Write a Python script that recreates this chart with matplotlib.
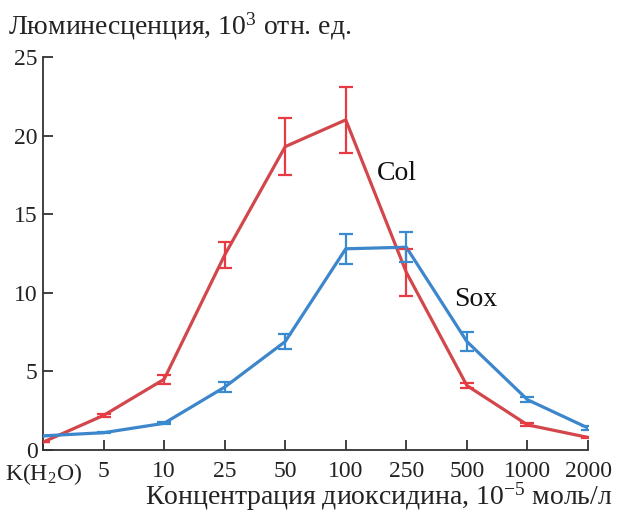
import matplotlib
matplotlib.use("Agg")
import matplotlib.pyplot as plt
import numpy as np

plt.rcParams['font.family'] = ['Liberation Serif', 'DejaVu Serif']
plt.rcParams['mathtext.fontset'] = 'custom'
plt.rcParams['mathtext.rm'] = 'Liberation Serif'
plt.rcParams['mathtext.it'] = 'Liberation Serif:italic'
plt.rcParams['mathtext.bf'] = 'Liberation Serif:bold'

categories = ["K(H$_2$O)", "5", "10", "25", "50", "100", "250", "500", "1000", "2000"]
col_values = [0.5, 2.2, 4.5, 12.4, 19.3, 21.0, 11.3, 4.1, 1.6, 0.8]
col_err = [0.0, 0.1, 0.3, 0.8, 1.8, 2.1, 1.5, 0.15, 0.1, 0.05]
sox_values = [0.9, 1.1, 1.7, 4.0, 6.9, 12.8, 12.9, 6.9, 3.2, 1.4]
sox_err = [0.0, 0.05, 0.05, 0.3, 0.5, 0.95, 0.95, 0.6, 0.15, 0.1]
yticks = [0, 5, 10, 15, 20, 25]

red_line = '#d2474b'
red_err = '#e83a42'
blue_line = '#3d86cb'
blue_err = '#3a8ad0'

fig = plt.figure(figsize=(6.2, 5.14), dpi=100)
ax = fig.add_axes([43/620, 64/514, (588-43)/620, (450-57)/514])

x = np.arange(len(categories))
ax.plot(x, col_values, color=red_line, lw=2.3, zorder=3)
ax.errorbar(x, col_values, yerr=col_err, fmt='none', ecolor=red_err, elinewidth=1.6,
            capsize=5, capthick=1.6, zorder=4)
ax.plot(x, sox_values, color=blue_line, lw=2.3, zorder=3)
ax.errorbar(x, sox_values, yerr=sox_err, fmt='none', ecolor=blue_err, elinewidth=1.6,
            capsize=5, capthick=1.6, zorder=4)

ax.set_xlim(0, len(categories) - 1)
ax.set_ylim(0, 25)
ax.set_xticks(x)
ax.set_xticklabels(categories)
ax.set_yticks(yticks)
ax.spines['top'].set_visible(False)
ax.spines['right'].set_visible(False)
for s in ['left', 'bottom']:
    ax.spines[s].set_color('#333333')
    ax.spines[s].set_linewidth(1.3)
ax.tick_params(axis='both', direction='in', length=7, width=1.3, color='#333333',
               labelsize=17, colors='#222222')
ax.tick_params(axis='x', pad=8)
ax.tick_params(axis='y', pad=4)

ax.text(5.85, 17.6, "Col", fontsize=20, color='#111111', ha='center', va='center')
ax.text(7.15, 9.6, "Sox", fontsize=20, color='#111111', ha='center', va='center')

fig.text(8/620, 1 - 26/514, "Люминесценция, 10$^3$ отн. ед.", fontsize=20,
         color='#222222', ha='left', va='center')
fig.text(613/620, 1 - 505/514, "Концентрация диоксидина, 10$^{-5}$ моль/л", fontsize=20,
         color='#222222', ha='right', va='baseline')

fig.savefig("out.png", dpi=100)
